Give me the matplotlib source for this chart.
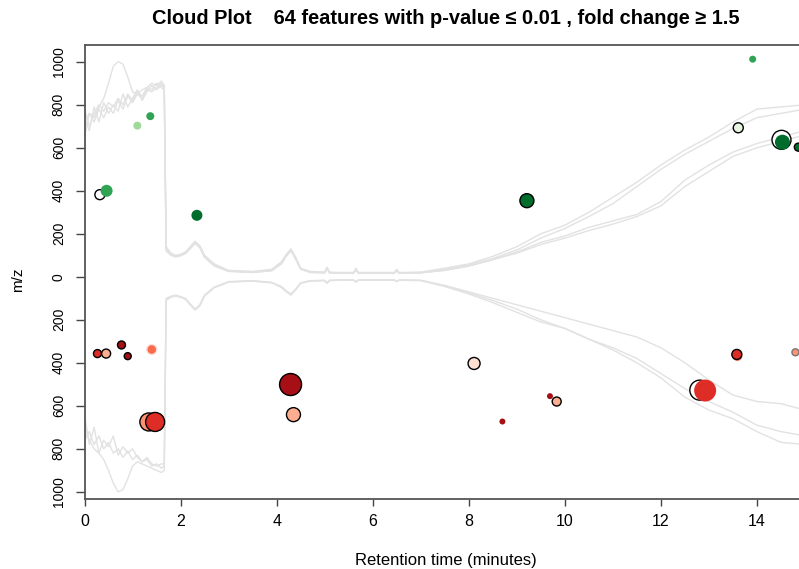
import matplotlib
matplotlib.use("Agg")
import matplotlib.pyplot as plt
import numpy as np

plt.rcParams['font.family'] = ['Liberation Sans', 'DejaVu Sans']

# retention time grid for the TIC traces (minutes)
tic_rt = [0.0, 0.1, 0.2, 0.3, 0.4, 0.5, 0.6, 0.7, 0.8, 0.9, 1.0, 1.1, 1.2, 1.3, 1.4, 1.5, 1.6,
          1.66, 1.7, 1.8, 1.9, 2.0, 2.1, 2.2, 2.3, 2.4, 2.5, 2.7,
          3.0, 3.5, 3.9, 4.1, 4.2, 4.3, 4.4, 4.5, 4.7, 5.0, 5.05, 5.1, 5.3, 5.6, 5.65, 5.7,
          6.0, 6.45, 6.5, 6.55, 7.0,
          7.5, 8.0, 8.5, 9.0, 9.5, 10.0, 10.5, 11.0, 11.5, 12.0, 12.5, 13.0, 13.5, 14.0, 14.5, 15.0]

# upper half: TICs of the "up" class (scaled to m/z axis)
tic_up = [
    [720, 760, 740, 790, 830, 900, 980, 1000, 990, 930, 860, 850, 870, 880, 900, 890, 910,
     890, 140, 110, 100, 105, 115, 140, 165, 145, 100, 60,
     30, 25, 35, 70, 105, 130, 90, 40, 25, 22, 45, 22, 20, 20, 40, 20, 20, 20, 35, 20, 22,
     40, 60, 95, 140, 200, 240, 300, 370, 440, 520, 590, 650, 720, 780, 790, 800],
    [780, 700, 760, 800, 770, 810, 790, 830, 800, 850, 820, 860, 840, 880, 870, 900, 880,
     870, 130, 105, 95, 100, 110, 135, 160, 140, 95, 55,
     28, 22, 30, 65, 100, 125, 85, 38, 22, 20, 40, 20, 18, 18, 35, 18, 18, 18, 30, 18, 20,
     35, 55, 85, 125, 180, 225, 280, 340, 420, 500, 570, 630, 690, 740, 760, 780],
    [650, 760, 720, 780, 740, 790, 760, 820, 780, 840, 810, 850, 830, 870, 860, 880, 900,
     880, 120, 100, 92, 98, 108, 130, 155, 135, 90, 50,
     25, 20, 28, 60, 95, 120, 80, 35, 20, 18, 38, 18, 16, 16, 32, 16, 16, 16, 28, 16, 18,
     30, 50, 80, 115, 160, 190, 230, 260, 290, 350, 450, 520, 580, 620, 650, 680],
    [740, 680, 790, 720, 810, 760, 800, 770, 850, 790, 830, 870, 820, 860, 890, 870, 890,
     880, 125, 102, 94, 99, 109, 132, 158, 138, 92, 52,
     26, 21, 29, 62, 98, 122, 82, 36, 21, 19, 39, 19, 17, 17, 33, 17, 17, 17, 29, 17, 19,
     30, 50, 80, 110, 150, 180, 215, 245, 280, 330, 420, 490, 560, 600, 630, 660],
]

# lower half: TICs of the "down" class
tic_down = [
    [700, 760, 800, 820, 850, 900, 960, 1000, 990, 940, 880, 860, 870, 880, 890, 900, 910,
     900, 110, 95, 90, 95, 105, 130, 155, 135, 90, 50,
     25, 20, 28, 50, 70, 85, 60, 30, 20, 18, 30, 18, 16, 16, 25, 16, 16, 16, 22, 16, 18,
     45, 80, 120, 165, 210, 240, 290, 340, 400, 470, 560, 620, 660, 720, 770, 780],
    [760, 720, 780, 740, 800, 770, 820, 800, 840, 810, 850, 830, 860, 850, 880, 870, 890,
     880, 100, 90, 85, 92, 100, 125, 150, 130, 85, 48,
     22, 18, 26, 45, 65, 80, 55, 28, 18, 16, 28, 16, 15, 15, 22, 15, 15, 15, 20, 15, 16,
     40, 70, 100, 130, 160, 190, 220, 250, 280, 330, 400, 480, 550, 580, 590, 620],
    [640, 780, 700, 820, 760, 790, 740, 830, 790, 820, 800, 840, 860, 840, 870, 880, 870,
     870, 105, 92, 88, 94, 102, 128, 152, 132, 88, 50,
     24, 19, 27, 48, 68, 82, 58, 29, 19, 17, 29, 17, 15, 15, 24, 15, 15, 15, 21, 15, 17,
     42, 75, 110, 150, 200, 240, 290, 330, 380, 450, 520, 580, 630, 690, 720, 740],
]

# significant features: retention time, m/z, radius (px), fill, edge
up_rt = [0.32, 0.46, 1.10, 1.37, 2.34, 9.21, 13.61, 14.51, 14.53, 14.86, 13.91]
up_mz = [382, 400, 703, 747, 286, 354, 693, 637, 626, 603, 1012]
up_r = [5, 6, 4, 4, 5.5, 7, 5, 9.5, 7.5, 4, 3.5]
up_fill = ['white', '#31a354', '#a1d99b', '#31a354', '#006d2c', '#006d2c', '#e5f5e0',
           'white', '#006d2c', '#006d2c', '#31a354']
up_edge = ['black', 'none', 'none', 'none', 'none', 'black', 'black',
           'black', 'none', 'black', 'none']

down_rt = [0.27, 0.45, 0.77, 0.90, 1.40, 1.34, 1.47, 4.29, 4.35, 8.11, 8.70, 9.69, 9.83,
           12.81, 12.92, 13.59, 13.58, 14.80]
down_mz = [357, 357, 317, 369, 338, 675, 675, 501, 641, 403, 673, 555, 580,
           527, 529, 368, 361, 351]
down_r = [4, 4.5, 4, 3.5, 5, 9, 9.5, 11, 7, 6, 3, 3, 4.5, 10, 11, 5, 5, 3.5]
down_fill = ['#de2d26', '#fcae91', '#a50f15', '#a50f15', '#fb6a4a', '#fc9272', '#de2d26',
             '#a50f15', '#fcae91', '#fee0d2', '#a50f15', '#a50f15', '#fcae91',
             'white', '#de2d26', '#fb6a4a', '#de2d26', '#fc9272']
down_edge = ['black', 'black', 'black', 'black', '#f5e0dc', 'black', 'black',
             'black', 'black', 'black', 'none', 'none', 'black',
             'black', 'none', 'none', 'black', '#777777']

yticks = [-1000, -800, -600, -400, -200, 0, 200, 400, 600, 800, 1000]
xticks = [0, 2, 4, 6, 8, 10, 12, 14]

fig = plt.figure(figsize=(7.99, 5.69), dpi=100)
W, H = 799, 569
ax = fig.add_axes([84.5 / W, (H - 498.5) / H, (806 - 84.5) / W, (498.5 - 45) / H])

for vals in tic_up:
    ax.plot(tic_rt, vals, color='#e2e2e2', lw=1.0, zorder=1)
for vals in tic_down:
    ax.plot(tic_rt, -np.array(vals), color='#e2e2e2', lw=1.0, zorder=1)


def bubbles(rt, mz, r, fill, edge, sign):
    s = [(1.44 * v) ** 2 for v in r]
    ax.scatter(rt, sign * np.array(mz), s=s, c=fill, edgecolors=edge,
               linewidths=1.0, zorder=3)


bubbles(up_rt, up_mz, up_r, up_fill, up_edge, 1)
bubbles(down_rt, down_mz, down_r, down_fill, down_edge, -1)

ax.set_xlim(0, 15.02)
ax.set_ylim(-1031, 1078)
ax.set_xticks(xticks)
ax.set_xticklabels([str(t) for t in xticks], fontsize=11.5)
ax.set_yticks(yticks)
ax.set_yticklabels([str(abs(t)) for t in yticks], fontsize=10, rotation=90, va='center')
ax.tick_params(axis='y', length=6.5, width=1, color='#444444', pad=7)
ax.tick_params(axis='x', length=5, width=1, color='#444444', pad=6)
for sp in ax.spines.values():
    sp.set_color('#555555')
    sp.set_linewidth(1.3)

fig.text(446 / W, 1 - 561 / H, 'Retention time (minutes)', fontsize=12,
         ha='center', va='center')
fig.text(18 / W, 1 - 280 / H, 'm/z', fontsize=11, rotation=90,
         ha='center', va='center')
fig.text(446 / W, 1 - 18 / H,
         'Cloud Plot    64 features with p-value \u2264 0.01 , fold change \u2265 1.5',
         fontsize=14.4, fontweight='bold', ha='center', va='center')

fig.savefig('out.png', dpi=100)
